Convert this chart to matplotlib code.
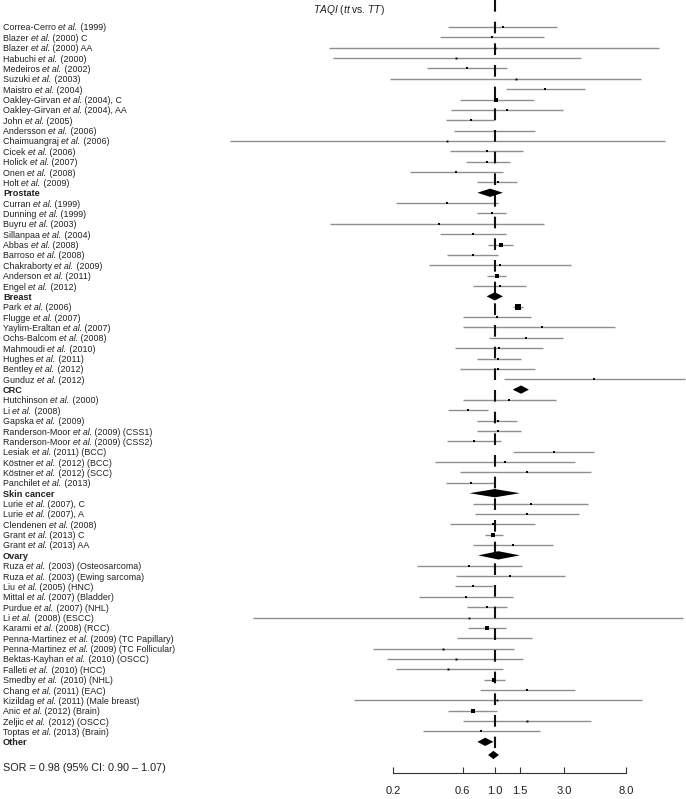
import numpy as np
import matplotlib
matplotlib.use("agg")
import matplotlib.pyplot as plt
from matplotlib.patches import Polygon

plt.rcParams["font.family"] = ["Liberation Sans", "DejaVu Sans"]
plt.rcParams["mathtext.fontset"] = "custom"
plt.rcParams["mathtext.rm"] = "Liberation Sans"
plt.rcParams["mathtext.it"] = "Liberation Sans:italic"
plt.rcParams["lines.scale_dashes"] = False

# rows top to bottom; pooled group rows are the names in `group_names`
labels = [
    "Correa-Cerro et al. (1999)", "Blazer et al. (2000) C", "Blazer et al. (2000) AA",
    "Habuchi et al. (2000)", "Medeiros et al. (2002)", "Suzuki et al. (2003)",
    "Maistro et al. (2004)", "Oakley-Girvan et al. (2004), C", "Oakley-Girvan et al. (2004), AA",
    "John et al. (2005)", "Andersson et al. (2006)", "Chaimuangraj et al. (2006)",
    "Cicek et al. (2006)", "Holick et al. (2007)", "Onen et al. (2008)", "Holt et al. (2009)",
    "Prostate",
    "Curran et al. (1999)", "Dunning et al. (1999)", "Buyru et al. (2003)",
    "Sillanpaa et al. (2004)", "Abbas et al. (2008)", "Barroso et al. (2008)",
    "Chakraborty et al. (2009)", "Anderson et al. (2011)", "Engel et al. (2012)",
    "Breast",
    "Park et al. (2006)", "Flugge et al. (2007)", "Yaylim-Eraltan et al. (2007)",
    "Ochs-Balcom et al. (2008)", "Mahmoudi et al. (2010)", "Hughes et al. (2011)",
    "Bentley et al. (2012)", "Gunduz et al. (2012)",
    "CRC",
    "Hutchinson et al. (2000)", "Li et al. (2008)", "Gapska et al. (2009)",
    "Randerson-Moor et al. (2009) (CSS1)", "Randerson-Moor et al. (2009) (CSS2)",
    "Lesiak et al. (2011) (BCC)", "Köstner et al. (2012) (BCC)", "Köstner et al. (2012) (SCC)",
    "Panchilet et al. (2013)",
    "Skin cancer",
    "Lurie et al. (2007), C", "Lurie et al. (2007), A", "Clendenen et al. (2008)",
    "Grant et al. (2013) C", "Grant et al. (2013) AA",
    "Ovary",
    "Ruza et al. (2003) (Osteosarcoma)", "Ruza et al. (2003) (Ewing sarcoma)",
    "Liu et al. (2005) (HNC)", "Mittal et al. (2007) (Bladder)", "Purdue et al. (2007) (NHL)",
    "Li et al. (2008) (ESCC)", "Karami et al. (2008) (RCC)",
    "Penna-Martinez et al. (2009) (TC Papillary)", "Penna-Martinez et al. (2009) (TC Follicular)",
    "Bektas-Kayhan et al. (2010) (OSCC)", "Falleti et al. (2010) (HCC)",
    "Smedby et al. (2010) (NHL)", "Chang et al. (2011) (EAC)",
    "Kizildag et al. (2011) (Male breast)", "Anic et al. (2012) (Brain)",
    "Zeljic et al. (2012) (OSCC)", "Toptas et al. (2013) (Brain)",
    "Other",
]
group_names = ["Prostate", "Breast", "CRC", "Skin cancer", "Ovary", "Other"]

odds = [1.14, 0.96, 1.0, 0.54, 0.64, 1.40, 2.23, 1.02, 1.22, 0.69, 1.0, 0.47, 0.88, 0.89, 0.54, 1.05,
        0.93,
        0.47, 0.96, 0.41, 0.71, 1.10, 0.71, 1.08, 1.03, 1.09,
        1.0,
        1.45, 1.04, 2.11, 1.64, 1.07, 1.05, 1.05, 4.86,
        1.52,
        1.26, 0.65, 1.05, 1.05, 0.72, 2.55, 1.18, 1.66, 0.69,
        1.0,
        1.77, 1.67, 0.97, 0.98, 1.33,
        1.06,
        0.66, 1.28, 0.71, 0.63, 0.88, 0.66, 0.88, 1.0, 0.44, 0.54, 0.48, 0.99, 1.68, 1.04,
        0.71, 1.68, 0.81,
        0.86]
ci_low = [0.48, 0.42, 0.072, 0.077, 0.34, 0.19, 1.19, 0.58, 0.50, 0.46, 0.52, 0.015, 0.49, 0.63, 0.26, 0.76,
          0.76,
          0.21, 0.76, 0.073, 0.42, 0.90, 0.47, 0.35, 0.88, 0.71,
          0.88,
          1.34, 0.60, 0.60, 0.92, 0.53, 0.75, 0.58, 1.15,
          1.33,
          0.60, 0.48, 0.75, 0.75, 0.47, 1.34, 0.39, 0.58, 0.46,
          0.67,
          0.71, 0.73, 0.49, 0.86, 0.71,
          0.77,
          0.29, 0.54, 0.53, 0.30, 0.64, 0.0215, 0.65, 0.55, 0.146, 0.18, 0.21, 0.84, 0.79, 0.107,
          0.48, 0.60, 0.32,
          0.76]
ci_high = [2.70, 2.19, 13.6, 3.94, 1.22, 10.2, 4.21, 1.86, 2.96, 1.0, 1.90, 14.9, 1.57, 1.28, 1.14, 1.43,
           1.14,
           1.06, 1.19, 2.19, 1.19, 1.34, 1.06, 3.34, 1.19, 1.65,
           1.14,
           1.57, 1.78, 6.75, 2.96, 2.14, 1.51, 1.90, 20.5,
           1.72,
           2.63, 0.90, 1.43, 1.51, 1.11, 4.84, 3.56, 4.64, 1.0,
           1.49,
           4.42, 3.83, 1.90, 1.14, 2.54,
           1.49,
           1.54, 3.04, 0.97, 1.34, 1.22, 20.0, 1.19, 1.81, 1.36, 1.57, 1.14, 1.18, 3.56, 10.3,
           1.04, 4.64, 2.04,
           0.98]
# relative study weights (0 for pooled rows)
weights = [1, 1.5, 0.5, 0.5, 1.5, 0.5, 1, 2.5, 0.8, 1.5, 1.5, 0.3, 1, 2, 1.5, 2,
           0,
           0.8, 2, 0.8, 1.5, 3, 1, 1.5, 4.5, 1,
           0,
           6, 1, 0.8, 1.5, 1.5, 1.5, 1.5, 0.8,
           0,
           1.5, 2, 2, 2, 1.5, 1.5, 0.8, 0.8, 1.5,
           0,
           0.8, 0.8, 1, 4, 1,
           0,
           0.8, 0.8, 2, 0.8, 1.5, 0.3, 3, 1, 0.5, 0.5, 0.5, 4, 0.8, 0.3,
           3, 0.5, 0.8,
           0]

overall = (0.98, 0.90, 1.07)
sor_text = "SOR = 0.98 (95% CI: 0.90 \u2013 1.07)"
ticks = [0.2, 0.6, 1.0, 1.5, 3.0, 8.0]

W, H = 686, 799
X1 = 494.7      # pixel of OR = 1
PPL = 63.0      # pixels per ln unit
ROW0, ROWH = 27.0, 10.36

fig = plt.figure(figsize=(W / 100, H / 100), dpi=100)
ax = fig.add_axes([0, 0, 1, 1])
ax.set_xscale("log")
ax.set_xlim(np.exp(-X1 / PPL), np.exp((W - X1) / PPL))
ax.set_ylim((H - ROW0) / ROWH, -ROW0 / ROWH)

txt = "#231f20"
fs = 6.4


def study_label(i, lab):
    """Write 'Author et al. (year)' with the 'et al.' part in italics."""
    pre, _, post = lab.partition(" et al.")
    t = ax.text(3 / W, i, pre + " ", transform=ax.get_yaxis_transform(), fontsize=fs,
                va="center_baseline", ha="left", color=txt)
    t2 = ax.annotate("et al.", xy=(1, 0), xycoords=t, fontsize=fs, style="italic",
                     va="bottom", ha="left", color=txt)
    ax.annotate(post, xy=(1, 0), xycoords=t2, fontsize=fs,
                va="bottom", ha="left", color=txt)


for i, lab in enumerate(labels):
    if lab in group_names:
        ax.text(3 / W, i, lab, transform=ax.get_yaxis_transform(), fontsize=6.6,
                fontweight="bold", va="center_baseline", ha="left", color=txt)
        h = 0.4
        ax.add_patch(Polygon([(ci_low[i], i), (odds[i], i - h), (ci_high[i], i), (odds[i], i + h)],
                             closed=True, color="black", zorder=4, lw=0))
    else:
        study_label(i, lab)
        ax.hlines(i, ci_low[i], ci_high[i], color="#8f8f8f", lw=1.0, zorder=2)
        ax.plot(odds[i], i, "s", color="black", ms=1.2 + 0.4 * weights[i], mew=0, zorder=5)

# dashed line of no effect
ax.plot([1, 1], [-ROW0 / ROWH, len(labels) - 0.4], color="#111111", lw=1.5,
        dashes=(8.4, 7.2), zorder=3)

# overall diamond
oy = len(labels) + 0.27
ax.add_patch(Polygon([(overall[1], oy), (overall[0], oy - 0.4), (overall[2], oy),
                      (overall[0], oy + 0.4)], closed=True, color="black", lw=0, zorder=4))
fig.text(3 / W, 1 - 767 / H, sor_text, fontsize=7.8, color=txt, va="center_baseline")

fig.text(349 / W, 1 - 8 / H, r"$\mathit{TAQI}$ ($\mathit{tt}$ vs. $\mathit{TT}$)",
         fontsize=7.4, color=txt, ha="center", va="center_baseline")

# axis
for s in ["top", "left", "right"]:
    ax.spines[s].set_visible(False)
ax.spines["bottom"].set_position(("data", (773 - ROW0) / ROWH))
ax.spines["bottom"].set_bounds(ticks[0], ticks[-1])
ax.spines["bottom"].set_linewidth(0.8)
ax.spines["bottom"].set_color("#333333")
ax.set_xticks(ticks)
ax.set_xticklabels(["%.1f" % t for t in ticks])
ax.xaxis.set_minor_locator(matplotlib.ticker.NullLocator())
ax.tick_params(axis="x", direction="in", length=4.1, width=0.8, color="#333333",
               pad=9.5, labelsize=8.0, labelcolor=txt)
ax.set_yticks([])
ax.patch.set_visible(False)

fig.savefig("out.png", dpi=100)
